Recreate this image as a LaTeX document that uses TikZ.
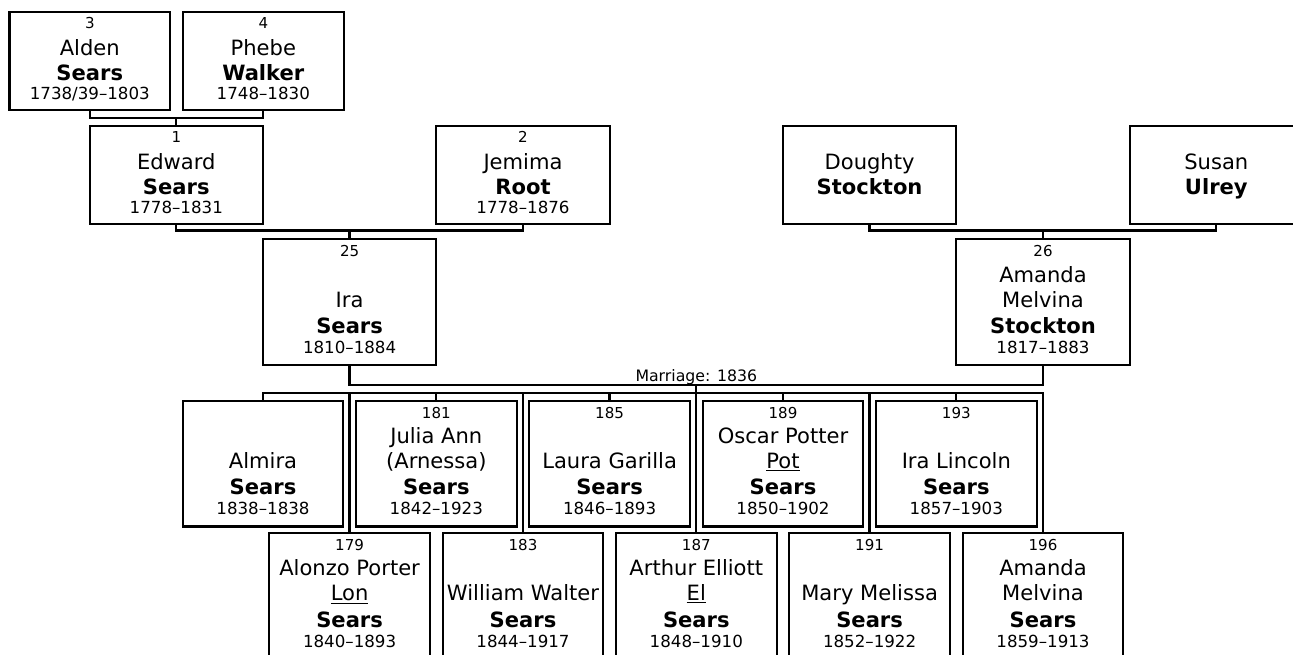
\documentclass[tikz,border=0pt]{standalone}
\usepackage{fontspec}
\setmainfont{DejaVu Sans}
\usetikzlibrary{calc}
\tikzset{
  pbox/.style={draw=black, line width=1.7pt, fill=white, inner sep=0pt, outer sep=0pt, rectangle},
  conn/.style={draw=black, line width=1.7pt},
  numtxt/.style={anchor=base, inner sep=0pt, font=\fontsize{11.3}{13}\selectfont},
  nametxt/.style={anchor=base, inner sep=0pt, font=\fontsize{15.8}{18}\selectfont},
  surtxt/.style={anchor=base, inner sep=0pt, font=\fontsize{15.8}{18}\selectfont\bfseries},
  datetxt/.style={anchor=base, inner sep=0pt, font=\fontsize{12.5}{14}\selectfont},
  martxt/.style={anchor=base, inner sep=0pt, font=\fontsize{11.8}{13}\selectfont},
}
\newcommand{\tline}[5]{%
  \if\relax\detokenize{#5}\relax\else
  \node[#3] (#1-#2) at ($(#1.north)+(0,#4)$) {#5};\fi}
\newcommand{\bigperson}[9]{%
  \node[pbox, minimum width=#4*0.75pt, minimum height=94.3pt, anchor=north] (#1) at (#2,#3) {};
  \tline{#1}{num}{numtxt}{17.5}{#5}
  \tline{#1}{na}{nametxt}{42.8}{#6}
  \tline{#1}{nb}{nametxt}{67.8}{#7}
  \tline{#1}{sur}{surtxt}{94.2}{#8}
  \tline{#1}{dat}{datetxt}{114.2}{#9}}
\newcommand{\smallperson}[8]{%
  \node[pbox, minimum width=#4*0.75pt, minimum height=73.5pt, anchor=north] (#1) at (#2,#3) {};
  \tline{#1}{num}{numtxt}{16.8}{#5}
  \tline{#1}{na}{nametxt}{43.6}{#6}
  \tline{#1}{sur}{surtxt}{68.6}{#7}
  \tline{#1}{dat}{datetxt}{88}{#8}}
\begin{document}
\begin{tikzpicture}[x=0.75pt,y=-0.75pt]
\useasboundingbox (0,0) rectangle (1293,654);
\clip (0,0) rectangle (1293,654);
\fill[white] (0,0) rectangle (1293,654);
% generation 1
\smallperson{alden}{89.8}{11.7}{160.7}{3}{Alden}{Sears}{1738/39–1803}
\smallperson{phebe}{263.3}{11.7}{160.7}{4}{Phebe}{Walker}{1748–1830}
% generation 2
\smallperson{edward}{176.3}{125.8}{173.3}{1}{Edward}{Sears}{1778–1831}
\smallperson{jemima}{523}{125.8}{173.3}{2}{Jemima}{Root}{1778–1876}
\smallperson{doughty}{869.6}{125.8}{173.3}{}{Doughty}{Stockton}{}
\smallperson{susan}{1216.3}{125.8}{173.3}{}{Susan}{Ulrey}{}
% generation 3
\bigperson{ira}{349.6}{239.3}{173.3}{25}{}{Ira}{Sears}{1810–1884}
\bigperson{amanda}{1043}{239.3}{173.3}{26}{Amanda}{Melvina}{Stockton}{1817–1883}
% children row 1
\bigperson{almira}{263}{400.7}{160.7}{}{}{Almira}{Sears}{1838–1838}
\bigperson{julia}{436.3}{400.7}{160.7}{181}{Julia Ann}{(Arnessa)}{Sears}{1842–1923}
\bigperson{laura}{609.6}{400.7}{160.7}{185}{}{Laura Garilla}{Sears}{1846–1893}
\bigperson{oscar}{783}{400.7}{160.7}{189}{Oscar Potter}{\underline{Pot}}{Sears}{1850–1902}
\bigperson{iral}{956.3}{400.7}{160.7}{193}{}{Ira Lincoln}{Sears}{1857–1903}
% children row 2
\bigperson{alonzo}{349.6}{533}{160.7}{179}{Alonzo Porter}{\underline{Lon}}{Sears}{1840–1893}
\bigperson{william}{523}{533}{160.7}{183}{}{William Walter}{Sears}{1844–1917}
\bigperson{arthur}{696.3}{533}{160.7}{187}{Arthur Elliott}{\underline{El}}{Sears}{1848–1910}
\bigperson{mary}{869.6}{533}{160.7}{191}{}{Mary Melissa}{Sears}{1852–1922}
\bigperson{amandas}{1043}{533}{160.7}{196}{Amanda}{Melvina}{Sears}{1859–1913}
% connectors: parents of Edward
\coordinate (apbar) at ($(alden.south)+(0,8)$);
\draw[conn] (alden.south) -- (apbar) -| (phebe.south);
\draw[conn] (edward.north) -- (edward.north |- apbar);
% parents of Ira
\coordinate (ejbar) at ($(edward.south)+(0,6.7)$);
\draw[conn] (edward.south) -- (ejbar) -| (jemima.south);
\draw[conn] (ira.north) -- (ira.north |- ejbar);
% parents of Amanda
\coordinate (dsbar) at ($(doughty.south)+(0,6.7)$);
\draw[conn] (doughty.south) -- (dsbar) -| (susan.south);
\draw[conn] (amanda.north) -- (amanda.north |- dsbar);
% marriage
\coordinate (mar) at ($(ira.south)+(0,20)$);
\draw[conn] (ira.south) -- (mar) -| (amanda.south);
\coordinate (marmid) at ($(mar)!0.5!(mar -| amanda.south)$);
\node[martxt] (marlabel) at ($(marmid)+(0,-3.6)$) {Marriage: 1836};
% children bar
\coordinate (kbar) at ($(almira.north)+(0,-7.7)$);
\draw[conn] (almira.north) -- (kbar) -| (amandas.north);
\draw[conn] (marmid) -- (arthur.north);
\draw[conn] (julia.north) -- (julia.north |- kbar);
\draw[conn] (laura.north) -- (laura.north |- kbar);
\draw[conn] (oscar.north) -- (oscar.north |- kbar);
\draw[conn] (iral.north) -- (iral.north |- kbar);
\draw[conn] (alonzo.north) -- (alonzo.north |- kbar);
\draw[conn] (william.north) -- (william.north |- kbar);
\draw[conn] (mary.north) -- (mary.north |- kbar);
\end{tikzpicture}
\end{document}
